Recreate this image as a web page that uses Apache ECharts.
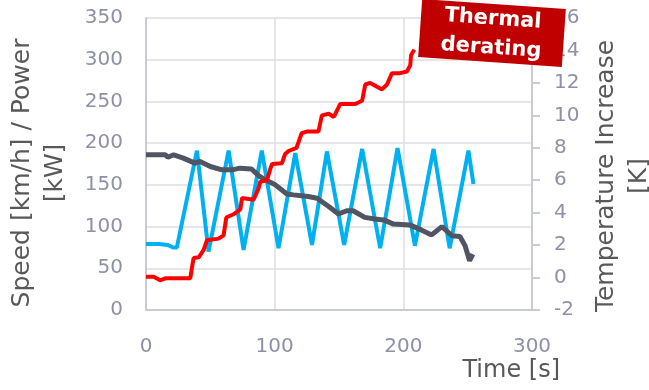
<!DOCTYPE html>
<html>
<head>
<meta charset="utf-8">
<script src="https://cdn.jsdelivr.net/npm/echarts@6/dist/echarts.min.js"></script>
<style>
  html, body { margin: 0; padding: 0; background: #fff; }
  #main { width: 649px; height: 390px; }
</style>
</head>
<body>
<div id="main"></div>
<script>
// speed [km/h] (time in s)
var speedT = [0, 10, 17, 21, 24, 39.6, 48.6, 64.2, 75.8, 90, 103, 116, 129, 140.6, 154, 168, 182, 195.5, 209, 223.5, 236, 250.6, 254.5]
var speedV = [79, 79, 78, 75, 75, 191, 70, 191, 72, 191, 74, 188, 78, 190, 78, 193, 74, 194, 77, 193, 74, 191, 151]

// power [kW]
var powerT = [0, 15, 17, 21.5, 29, 38, 42, 50, 59, 67, 73, 82, 87.5, 92.7, 100.5, 109.5, 114.7, 126, 133, 142, 149.6, 156, 161, 170, 178, 184.6, 192.4, 205, 214, 222, 230, 237.8, 244, 248, 251.5, 254]
var powerV = [186, 186, 183, 186, 182, 176, 178, 172, 168, 168, 170, 169, 161, 156, 150, 139, 138, 136, 134, 124, 115, 119, 119, 111, 109, 108, 103, 102, 96, 90, 100, 89, 88, 77, 59, 67]

// temperature increase [K]
var tempT = [0, 6, 11, 15, 34.4, 35.7, 37, 41, 44.8, 47.4, 56.4, 60.3, 62.4, 68, 73.3, 74.6, 83.6, 87.5, 88.8, 94, 96.6, 98, 105.7, 108, 110.8, 117, 121, 125, 134, 136.7, 142, 146, 151, 162.6, 168, 170.4, 174.3, 183.4, 187.3, 191.2, 197.6, 202.8, 205.4, 206, 208.5]
var tempV = [0.05, 0.05, -0.17, -0.05, -0.05, 0.6, 1.2, 1.25, 1.7, 2.3, 2.4, 2.6, 3.7, 3.9, 4.2, 4.9, 4.8, 5.5, 5.9, 6.0, 6.7, 7.0, 7.05, 7.6, 7.8, 8.0, 8.9, 9.0, 9.0, 10.0, 10.1, 9.9, 10.7, 10.7, 10.9, 11.9, 12.0, 11.6, 11.9, 12.6, 12.6, 12.7, 13.1, 13.7, 14.05]

function pairs (xs, ys) {
  var out = []
  for (var i = 0; i < xs.length; i++) {
    out.push([xs[i], ys[i]])
  }
  return out
}

var font = 'DejaVu Sans'
var labelColor = '#8e91a6'
var titleColor = '#595959'
var gridColor = '#dcdce3'

var myChart = echarts.init(document.getElementById('main'), null, { renderer: 'canvas' })
var option = {
  animation: false,
  backgroundColor: '#fff',
  grid: { left: 146, right: 117, top: 18, bottom: 80, outerBoundsMode: 'none' },
  xAxis: {
    type: 'value',
    min: 0,
    max: 300,
    interval: 100,
    name: 'Time [s]',
    nameLocation: 'end',
    nameGap: 28,
    nameTextStyle: {
      fontFamily: font, fontSize: 24, color: titleColor,
      align: 'right', verticalAlign: 'top', padding: [49, 0, 0, 0]
    },
    axisLine: { lineStyle: { color: '#c9cbd4', width: 2 } },
    axisTick: { show: false },
    axisLabel: { margin: 27, fontFamily: font, fontSize: 20, color: labelColor },
    splitLine: { lineStyle: { color: gridColor, width: 1.5 } }
  },
  yAxis: [{
    type: 'value',
    min: 0,
    max: 350,
    interval: 50,
    name: 'Speed [km/h] / Power\n[kW]',
    nameLocation: 'middle',
    nameRotate: 90,
    nameGap: 74,
    nameTextStyle: { fontFamily: font, fontSize: 25, color: titleColor, lineHeight: 33, padding: [0, 18, 0, 0] },
    axisLine: { show: true, lineStyle: { color: '#c9cbd4', width: 2 } },
    axisTick: { show: false },
    axisLabel: { margin: 23, fontFamily: font, fontSize: 20, color: labelColor },
    splitLine: { lineStyle: { color: gridColor, width: 1.5 } }
  }, {
    type: 'value',
    min: -2,
    max: 16,
    interval: 2,
    position: 'right',
    name: 'Temperature Increase\n[K]',
    nameLocation: 'middle',
    nameRotate: 90,
    nameGap: 54,
    nameTextStyle: { fontFamily: font, fontSize: 25, color: titleColor, lineHeight: 33, padding: [0, 24, 0, 0] },
    axisLine: { show: true, lineStyle: { color: '#c9cbd4', width: 2 } },
    axisTick: { show: true, length: 8, lineStyle: { color: '#c9cbd4', width: 2 } },
    axisLabel: { margin: 22, fontFamily: font, fontSize: 20, color: labelColor },
    splitLine: { show: false }
  }],
  series: [{
    name: 'Speed',
    type: 'line',
    yAxisIndex: 0,
    showSymbol: false,
    lineStyle: { color: '#00b0f0', width: 4 },
    data: pairs(speedT, speedV)
  }, {
    name: 'Power',
    type: 'line',
    yAxisIndex: 0,
    showSymbol: false,
    lineStyle: { color: '#4f5563', width: 5 },
    data: pairs(powerT, powerV)
  }, {
    name: 'Temperature',
    type: 'line',
    yAxisIndex: 1,
    showSymbol: false,
    lineStyle: { color: '#ff0000', width: 4 },
    data: pairs(tempT, tempV)
  }],
  graphic: [{
    type: 'group',
    x: 492,
    y: 33,
    rotation: -4 * Math.PI / 180,
    z: 100,
    zlevel: 1,
    children: [{
      type: 'rect',
      z: 100,
      zlevel: 1,
      shape: { x: -72, y: -29, width: 144, height: 58 },
      style: { fill: '#c00000' }
    }, {
      type: 'text',
      z: 101,
      zlevel: 1,
      x: 0,
      y: -14,
      style: {
        text: 'Thermal',
        fill: '#fff',
        font: 'bold 21px "DejaVu Sans"',
        align: 'center',
        verticalAlign: 'middle'
      }
    }, {
      type: 'text',
      z: 101,
      zlevel: 1,
      x: 0,
      y: 15,
      style: {
        text: 'derating',
        fill: '#fff',
        font: 'bold 21px "DejaVu Sans"',
        align: 'center',
        verticalAlign: 'middle'
      }
    }]
  }]
}
option && myChart.setOption(option)
</script>
</body>
</html>
